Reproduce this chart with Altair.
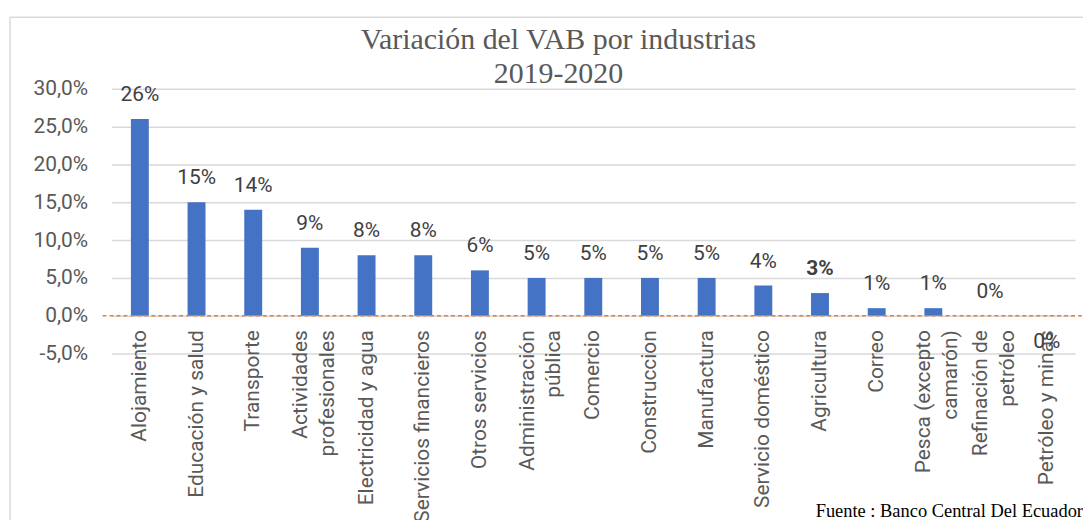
import altair as alt
import pandas as pd

categories = [
    "Alojamiento", "Educación y salud", "Transporte", "Actividades|profesionales",
    "Electricidad y agua", "Servicios financieros", "Otros servicios",
    "Administración|pública", "Comercio", "Construccion", "Manufactura",
    "Servicio doméstico", "Agricultura", "Correo", "Pesca (excepto|camarón)",
    "Refinación de|petróleo", "Petróleo y minas",
]
values = [26, 15, 14, 9, 8, 8, 6, 5, 5, 5, 5, 4, 3, 1, 1, 0, -0.02]
labels = ["26%", "15%", "14%", "9%", "8%", "8%", "6%", "5%", "5%", "5%", "5%",
          "4%", "3%", "1%", "1%", "0%", "0%"]
y_ticks = [-5, 0, 5, 10, 15, 20, 25, 30]

df = pd.DataFrame({
    "cat": categories,
    "v": values,
    "lab": labels,
})

FONT = "Roboto"
W, H = 968, 266

xenc = alt.X("cat:N", sort=categories,
             scale=alt.Scale(paddingInner=0, paddingOuter=0),
             axis=alt.Axis(title=None, labelAngle=-90, labelAlign="right",
                           labelBaseline="middle", labelFont=FONT, labelFontSize=21,
                           labelColor="#595959", labelPadding=14, offset=-38,
                           domain=False, ticks=False, labelLimit=0,
                           labelOverlap=False, labelLineHeight=27,
                           labelOffset={"condition": {"test": "indexof(datum.label, '|') >= 0",
                                                      "value": -9}, "value": 0},
                           labelExpr="split(datum.label, '|')"))
yscale = alt.Scale(domain=[-5, 30], nice=False, zero=False)
yenc = alt.Y("v:Q", scale=yscale,
             axis=alt.Axis(title=None, values=y_ticks, tickCount=8,
                           labelExpr="replace(replace(format(datum.value, '.1f'), '.', ','), '\u2212', '-') + '%'",
                           labelFont=FONT, labelFontSize=21, labelColor="#595959",
                           labelPadding=24, domain=False, ticks=False,
                           labelOverlap=False, labelFlush=False,
                           gridColor="#d9d9d9", gridWidth=1.5))

base = alt.Chart(df).encode(x=xenc, y=yenc)

bars = base.mark_bar(size=18, color="#4472C4")

pos_labels = base.transform_filter("datum.v >= 0 && datum.cat != 'Agricultura'").mark_text(
    font=FONT, fontSize=21, color="#404040", baseline="middle", dy=-24
).encode(text="lab:N")

bold_labels = base.transform_filter("datum.cat == 'Agricultura'").mark_text(
    font=FONT, fontSize=21, color="#404040", baseline="middle", dy=-24, fontWeight="bold"
).encode(text="lab:N")

neg_labels = base.transform_filter("datum.v < 0").mark_text(
    font=FONT, fontSize=21, color="#404040", baseline="middle", dy=26
).encode(text="lab:N")

zero = alt.Chart(pd.DataFrame({"v": [0]})).mark_rule(
    color="#ED7D31", strokeDash=[4, 3], strokeWidth=1.5
).encode(y=yenc, x=alt.value(-9), x2=alt.value(990))

border_v = alt.Chart(pd.DataFrame({"a": [0]})).mark_rule(
    color="#d9d9d9", strokeWidth=1.5
).encode(x=alt.value(-102), y=alt.value(-72), y2=alt.value(520))
border_h = alt.Chart(pd.DataFrame({"a": [0]})).mark_rule(
    color="#d9d9d9", strokeWidth=1.5
).encode(y=alt.value(-72), x=alt.value(-102), x2=alt.value(1000))

title = alt.Chart(pd.DataFrame({"t": [["Variación del VAB por industrias", "2019-2020"]]})).mark_text(
    font="Liberation Serif", fontSize=30, color="#595959", align="center",
    baseline="alphabetic", lineHeight=34
).encode(text="t", x=alt.value(449), y=alt.value(-40))

source = alt.Chart(pd.DataFrame({"t": ["Fuente : Banco Central Del Ecuador"]})).mark_text(
    font="Liberation Serif", fontSize=18.5, color="#000000", align="right",
    baseline="alphabetic"
).encode(text="t:N", x=alt.value(976), y=alt.value(430))

chart = alt.layer(
    border_v, border_h, bars, zero, pos_labels, bold_labels, neg_labels, title, source
).properties(
    width=W, height=H,
    autosize=alt.AutoSizeParams(type="none"),
    padding={"left": 104, "top": 80, "right": 8, "bottom": 166},
).configure_view(stroke=None)

chart.save("out.html", embed_options={"renderer": "svg", "actions": False})
